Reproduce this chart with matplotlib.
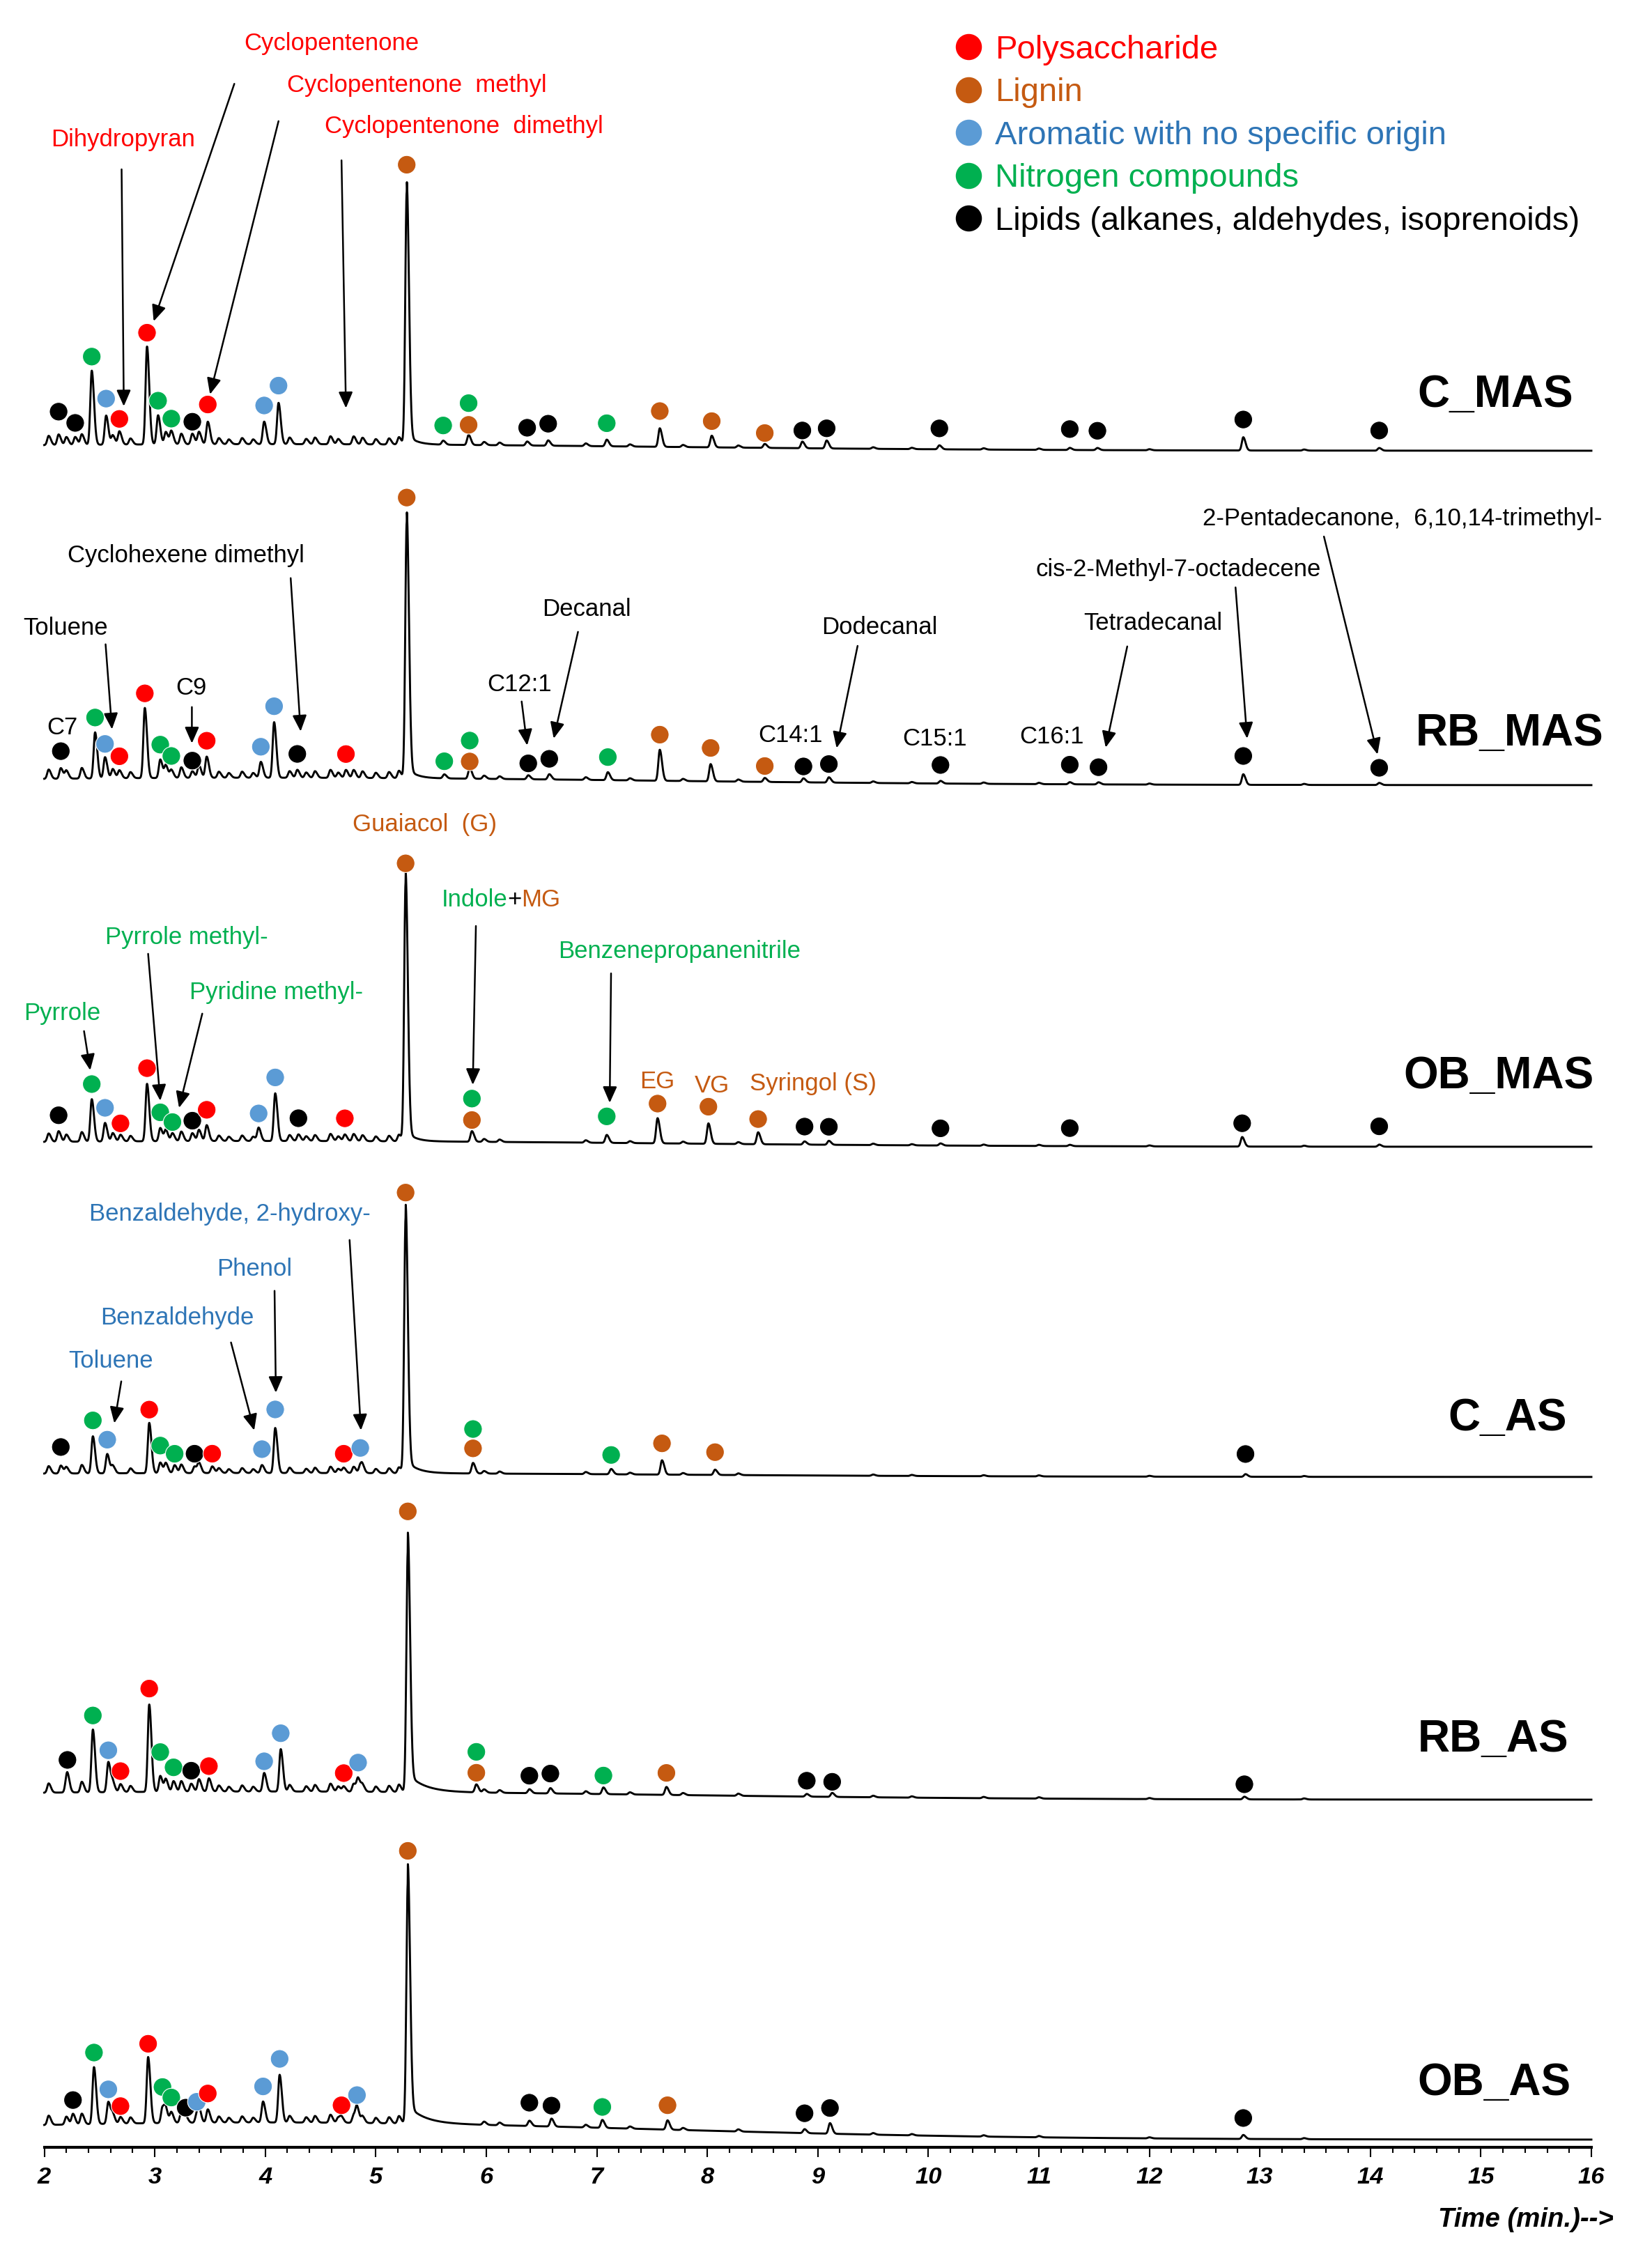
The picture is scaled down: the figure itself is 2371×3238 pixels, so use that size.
import numpy as np
import matplotlib
matplotlib.use('Agg')
import matplotlib.pyplot as plt
from matplotlib.lines import Line2D
from matplotlib import font_manager

# compound classes: P polysaccharide, L lignin, A aromatic, N nitrogen, K lipids
class_colors = {'P': '#FF0000', 'L': '#C55A11', 'A': '#5B9BD5', 'N': '#00B050', 'K': '#000000'}
text_colors = {'P': '#FF0000', 'L': '#C55A11', 'A': '#2E75B6', 'N': '#00B050', 'K': '#000000'}

legend_labels = ['Polysaccharide', 'Lignin', 'Aromatic with no specific origin',
                 'Nitrogen compounds', 'Lipids (alkanes, aldehydes, isoprenoids)']
legend_classes = ['P', 'L', 'A', 'N', 'K']

samples = ['C_MAS', 'RB_MAS', 'OB_MAS', 'C_AS', 'RB_AS', 'OB_AS']

# peaks: retention time (min), height (% of guaiacol peak)
c_mas_peak_t = [2.13, 2.28, 2.43, 2.56, 2.68, 2.93, 3.03, 3.15, 3.34, 3.48, 3.99, 4.12, 5.28, 5.61,
                5.84, 6.37, 6.56, 7.09, 7.57, 8.04, 8.52, 8.86, 9.08, 10.10, 11.28, 11.53, 12.85, 14.08]
c_mas_peak_h = [4, 3, 28, 11, 5, 37, 11, 5, 4, 8.5, 8.5, 15.6, 99.5, 1.5,
                3.8, 1.5, 2, 2.5, 7, 4.4, 1.5, 2.5, 3, 1.5, 0.8, 0.8, 5, 1]
rb_mas_peak_t = [2.15, 2.46, 2.55, 2.68, 2.91, 3.05, 3.15, 3.34, 3.47, 3.96, 4.08, 4.29, 4.73, 5.28, 5.62,
                 5.85, 6.38, 6.57, 7.10, 7.57, 8.03, 8.52, 8.87, 9.10, 10.11, 11.28, 11.54, 12.85, 14.08]
rb_mas_peak_h = [4, 17.4, 8, 3, 26.5, 7, 3, 2.5, 8, 6, 21, 3, 3, 100.8, 1.5,
                 4, 1.5, 2, 3, 11.7, 6.5, 1.5, 1.5, 2, 1, 0.8, 0.8, 4, 0.8]
ob_mas_peak_t = [2.13, 2.43, 2.55, 2.69, 2.93, 3.05, 3.16, 3.34, 3.47, 3.94, 4.09, 4.30, 4.72, 5.27,
                 5.87, 7.09, 7.55, 8.01, 8.46, 8.88, 9.10, 10.11, 11.28, 12.84, 14.08]
ob_mas_peak_h = [4, 16, 7, 2.5, 21.7, 5, 3, 3, 6, 5, 18, 2.5, 2.5, 101.8,
                 4, 3, 9.5, 7.7, 4.5, 1.2, 1.5, 0.8, 0.5, 3.6, 0.8]
c_as_peak_t = [2.15, 2.44, 2.57, 2.95, 3.05, 3.18, 3.36, 3.52, 3.97, 4.09, 4.71, 4.86, 5.27, 5.88,
               7.13, 7.59, 8.07, 12.87]
c_as_peak_h = [3, 14, 7.3, 19, 4, 3, 2.5, 2.5, 3, 17, 2, 3, 101.6, 4,
               2, 5.4, 2, 1]
rb_as_peak_t = [2.21, 2.44, 2.58, 2.69, 2.95, 3.05, 3.17, 3.33, 3.49, 3.99, 4.14, 4.71, 4.84, 5.29,
                5.91, 6.39, 6.58, 7.06, 7.63, 8.90, 9.13, 12.86]
rb_as_peak_h = [5, 23.7, 11.4, 3, 33, 6, 4, 3, 5, 7, 16, 2, 5, 98,
                3, 1.5, 2, 2.5, 3, 1, 1.5, 1]
ob_as_peak_t = [2.26, 2.45, 2.58, 2.69, 2.94, 3.07, 3.15, 3.28, 3.38, 3.48, 3.98, 4.13, 4.69, 4.83,
                5.29, 6.39, 6.59, 7.05, 7.64, 8.88, 9.11, 12.85]
ob_as_peak_h = [4, 21.5, 8.3, 2.5, 25, 6, 4, 2.5, 3, 5, 7.9, 18, 2, 5.7,
                98, 2, 3, 3, 3.5, 1.5, 4, 1.5]

# small unlabelled peaks common to all runs
minor_t = [2.04, 2.20, 2.34, 2.62, 2.78, 3.10, 3.24, 3.40, 3.58, 3.67, 3.79, 3.89, 4.22, 4.37, 4.45,
           4.59, 4.66, 4.80, 4.88, 5.00, 5.12, 5.21, 5.98, 6.12, 6.90, 7.30, 7.78, 8.28, 9.50, 9.85,
           10.50, 11.00, 12.00, 13.40]
minor_h = [3.5, 3, 4, 3.5, 2.3, 4.7, 4, 4.7, 2.3, 1.8, 2.3, 1.8, 2.5, 2, 2.5,
           3, 2, 3, 2.5, 2, 2.3, 2.8, 1.2, 1.0, 1.0, 0.8, 0.8, 0.8, 0.6, 0.5,
           0.5, 0.5, 0.4, 0.4]
minor_scale = [1.0, 1.0, 0.9, 0.8, 1.0, 1.0]
drift_h = [2.5, 2.8, 2.2, 1.5, 3.1, 6.5]
tail_frac = [0.04, 0.04, 0.04, 0.05, 0.07, 0.07]
tail_tau = [0.08, 0.08, 0.08, 0.10, 0.15, 0.15]

# identified compounds (dots): time, height above baseline (%), class
c_mas_dot_t = [2.13, 2.28, 2.43, 2.56, 2.68, 2.93, 3.03, 3.15, 3.34, 3.48, 3.99, 4.12, 5.28, 5.61, 5.84,
               5.84, 6.37, 6.56, 7.09, 7.57, 8.04, 8.52, 8.86, 9.08, 10.10, 11.28, 11.53, 12.85, 14.08]
c_mas_dot_h = [12.6, 8.3, 33.3, 17.4, 9.7, 42.2, 16.5, 9.7, 8.5, 15.0, 14.6, 22.1, 105.7, 7.3, 15.8,
               7.6, 6.7, 8.3, 8.7, 13.5, 9.9, 5.6, 6.7, 7.6, 7.9, 7.9, 7.3, 11.7, 7.6]
c_mas_dot_c = ['K', 'K', 'N', 'A', 'P', 'P', 'N', 'N', 'K', 'P', 'A', 'A', 'L', 'N', 'N',
               'L', 'K', 'K', 'N', 'L', 'L', 'L', 'K', 'K', 'K', 'K', 'K', 'K', 'K']
rb_mas_dot_t = [2.15, 2.46, 2.55, 2.68, 2.91, 3.05, 3.15, 3.34, 3.47, 3.96, 4.08, 4.29, 4.73, 5.28, 5.62,
                5.85, 5.85, 6.38, 6.57, 7.10, 7.57, 8.03, 8.52, 8.87, 9.10, 10.11, 11.28, 11.54, 12.85, 14.08]
rb_mas_dot_h = [10.4, 23, 13, 8.3, 32, 12.6, 8.3, 6.5, 14, 11.7, 27, 9, 9, 106, 6.5,
                14.4, 6.5, 6, 7.8, 8.7, 17.4, 12.6, 6, 6, 7, 7, 7.4, 6.5, 10.9, 6.5]
rb_mas_dot_c = ['K', 'N', 'A', 'P', 'P', 'N', 'N', 'K', 'P', 'A', 'A', 'K', 'P', 'L', 'N',
                'N', 'L', 'K', 'K', 'N', 'L', 'L', 'L', 'K', 'K', 'K', 'K', 'K', 'K', 'K']
ob_mas_dot_t = [2.13, 2.43, 2.55, 2.69, 2.93, 3.05, 3.16, 3.34, 3.47, 3.94, 4.09, 4.30, 4.72, 5.27,
                5.87, 5.87, 7.09, 7.55, 8.01, 8.46, 8.88, 9.10, 10.11, 11.28, 12.84, 14.08]
ob_mas_dot_h = [10, 21.7, 12.7, 6.8, 27.6, 10.9, 7.2, 7.7, 11.8, 10.4, 24, 8.6, 8.6, 105,
                16.3, 8.2, 10, 15, 14, 9.5, 6.8, 6.8, 6.5, 6.8, 8.8, 7.7]
ob_mas_dot_c = ['K', 'N', 'A', 'P', 'P', 'N', 'N', 'K', 'P', 'A', 'A', 'K', 'P', 'L',
                'N', 'L', 'N', 'L', 'L', 'L', 'K', 'K', 'K', 'K', 'K', 'K']
c_as_dot_t = [2.15, 2.44, 2.57, 2.95, 3.05, 3.18, 3.36, 3.52, 3.97, 4.09, 4.71, 4.86, 5.27, 5.88,
              5.88, 7.13, 7.59, 8.07, 12.87]
c_as_dot_h = [10, 20, 12.7, 24, 10.4, 7.3, 7.3, 7.3, 9, 24, 7.3, 9.5, 106, 16.8,
              9.5, 7.3, 11.8, 8.6, 8.6]
c_as_dot_c = ['K', 'N', 'A', 'P', 'N', 'N', 'K', 'P', 'A', 'A', 'P', 'A', 'L', 'N',
              'L', 'N', 'L', 'L', 'K']
rb_as_dot_t = [2.21, 2.44, 2.58, 2.69, 2.95, 3.05, 3.17, 3.33, 3.49, 3.99, 4.14, 4.71, 4.84, 5.29,
               5.91, 5.91, 6.39, 6.58, 7.06, 7.63, 8.90, 9.13, 12.86]
rb_as_dot_h = [12.3, 29, 15.8, 7.9, 39, 15, 9.2, 7.9, 9.6, 11.4, 22, 7, 11, 106,
               15.4, 7.5, 6.6, 7.5, 7, 8.3, 6, 5.7, 5.7]
rb_as_dot_c = ['K', 'N', 'A', 'P', 'P', 'N', 'N', 'K', 'P', 'A', 'A', 'P', 'A', 'L',
               'N', 'L', 'K', 'K', 'N', 'L', 'K', 'K', 'K']
ob_as_dot_t = [2.26, 2.45, 2.58, 2.69, 2.94, 3.07, 3.15, 3.28, 3.38, 3.48, 3.98, 4.13, 4.69, 4.83,
               5.29, 6.39, 6.59, 7.05, 7.64, 8.88, 9.11, 12.85]
ob_as_dot_h = [9.2, 27, 13, 6.6, 30, 13.6, 9.6, 5.7, 7.9, 11, 13.6, 24, 6.6, 10.5,
               103, 8.8, 7.9, 7.9, 9.2, 7.5, 9.7, 7.9]
ob_as_dot_c = ['K', 'N', 'A', 'P', 'P', 'N', 'N', 'K', 'A', 'P', 'A', 'A', 'P', 'A',
               'L', 'K', 'K', 'N', 'L', 'K', 'K', 'K']

# compound names: (text, time, height above trace, class colour)
c_mas_names = [('Cyclopentenone', 4.60, 153.9, 'P'), ('Cyclopentenone  methyl', 5.37, 137.9, 'P'),
               ('Cyclopentenone  dimethyl', 5.80, 122.6, 'P'), ('Dihydropyran', 2.71, 117.4, 'P')]
rb_mas_names = [('C7', 2.16, 21.6, 'K'), ('Toluene', 2.19, 59.2, 'K'), ('C9', 3.33, 36.6, 'K'),
                ('Cyclohexene dimethyl', 3.28, 86.6, 'K'), ('C12:1', 6.30, 37.9, 'K'),
                ('Decanal', 6.91, 66.3, 'K'), ('C14:1', 8.75, 18.9, 'K'), ('Dodecanal', 9.56, 59.7, 'K'),
                ('C15:1', 10.06, 17.6, 'K'), ('C16:1', 11.12, 18.2, 'K'), ('Tetradecanal', 12.03, 61.1, 'K'),
                ('cis-2-Methyl-7-octadecene', 12.26, 81.3, 'K'),
                ('2-Pentadecanone,  6,10,14-trimethyl-', 14.29, 100.5, 'K')]
ob_mas_names = [('Guaiacol  (G)', 5.44, 121.8, 'L'), ('Pyrrole methyl-', 3.29, 79.2, 'N'),
                ('Benzenepropanenitrile', 7.75, 73.7, 'N'), ('Pyridine methyl-', 4.10, 58.4, 'N'),
                ('Pyrrole', 2.16, 50.3, 'N'), ('EG', 7.545, 24.5, 'L'), ('VG', 8.04, 22.9, 'L'),
                ('Syringol (S)', 8.96, 23.9, 'L')]
c_as_names = [('Benzaldehyde, 2-hydroxy-', 3.68, 99.2, 'A'), ('Phenol', 3.90, 78.4, 'A'),
              ('Benzaldehyde', 3.20, 60.0, 'A'), ('Toluene', 2.60, 43.9, 'A')]

# arrows: tail time, tail height, tip time, tip height
c_mas_arrows = [(2.70, 106.3, 2.72, 16.8), (3.72, 138.6, 2.99, 48.9),
                (4.12, 124.5, 3.50, 21.3), (4.69, 109.7, 4.73, 16.1)]
rb_mas_arrows = [(2.555, 53.2, 2.613, 21.1), (3.336, 29.5, 3.336, 15.8), (4.23, 78.2, 4.32, 20.3),
                 (6.32, 31.6, 6.37, 15.0), (6.83, 57.9, 6.61, 17.6), (9.36, 52.6, 9.17, 14.0),
                 (11.80, 52.4, 11.605, 14.2), (12.78, 74.7, 12.885, 17.6), (13.58, 93.9, 14.065, 11.6)]
ob_mas_arrows = [(2.36, 43.7, 2.416, 28.9), (2.94, 72.9, 3.05, 17.4), (3.43, 50.3, 3.22, 14.7),
                 (5.906, 83.4, 5.878, 23.4), (7.129, 65.5, 7.117, 16.6)]
c_as_arrows = [(2.697, 36.1, 2.634, 20.3), (3.69, 50.8, 3.90, 17.6),
               (4.084, 70.3, 4.096, 31.8), (4.763, 89.5, 4.866, 17.6)]

peak_t = [c_mas_peak_t, rb_mas_peak_t, ob_mas_peak_t, c_as_peak_t, rb_as_peak_t, ob_as_peak_t]
peak_h = [c_mas_peak_h, rb_mas_peak_h, ob_mas_peak_h, c_as_peak_h, rb_as_peak_h, ob_as_peak_h]
dot_t = [c_mas_dot_t, rb_mas_dot_t, ob_mas_dot_t, c_as_dot_t, rb_as_dot_t, ob_as_dot_t]
dot_h = [c_mas_dot_h, rb_mas_dot_h, ob_mas_dot_h, c_as_dot_h, rb_as_dot_h, ob_as_dot_h]
dot_c = [c_mas_dot_c, rb_mas_dot_c, ob_mas_dot_c, c_as_dot_c, rb_as_dot_c, ob_as_dot_c]
names = [c_mas_names, rb_mas_names, ob_mas_names, c_as_names, [], []]
arrows = [c_mas_arrows, rb_mas_arrows, ob_mas_arrows, c_as_arrows, [], []]

# layout: baseline of each run and sample label position (in % units)
offsets = [640.8, 514.5, 377.9, 253.2, 131.3, 2.9]
sample_label_pos = [(15.13, 21.1), (15.26, 19.5), (15.16, 26.6), (15.24, 22.1), (15.11, 22.6), (15.12, 21.3)]

installed = {f.name for f in font_manager.fontManager.ttflist}
narrow = 'Liberation Sans Narrow' if 'Liberation Sans Narrow' in installed else 'Liberation Sans'
nscale = 1.0 if narrow == 'Liberation Sans Narrow' else 0.92
plt.rcParams['font.family'] = ['Liberation Sans', 'DejaVu Sans']


def baseline(t, d):
    return d * np.exp(-0.5 * ((t - 4.0) / 3.5) ** 2)


def chromatogram(t, pt, ph, mscale, d, a, tau):
    y = baseline(t, d)
    for t0, h in list(zip(pt, ph)) + [(m, mh * mscale) for m, mh in zip(minor_t, minor_h)]:
        s = np.where(t < t0, 0.013, 0.02)
        g = np.exp(-0.5 * ((t - t0) / s) ** 2)
        if h > 50:
            tail = np.exp(-np.clip(t - t0, 0, None) / tau) * (t >= t0)
            g = (1 - a) * g + a * tail
        y = y + h * g
    return y


fig = plt.figure(figsize=(23.71, 32.38), dpi=100)
ax = fig.add_axes([63.5 / 2371, 156 / 3238, 2220.5 / 2371, 3082 / 3238])
ax.set_xlim(2, 16)
ax.set_ylim(0, 811.05)

t = np.linspace(2.0, 16.0, 8000)
for i, s in enumerate(samples):
    off = offsets[i]
    y = chromatogram(t, peak_t[i], peak_h[i], minor_scale[i], drift_h[i], tail_frac[i], tail_tau[i])
    ax.plot(t, off + y, color='black', lw=2.1, zorder=2, clip_on=False)

    dt = np.array(dot_t[i])
    dy = off + baseline(dt, drift_h[i]) + np.array(dot_h[i])
    ax.scatter(dt, dy, s=19 ** 2, c=[class_colors[c] for c in dot_c[i]], edgecolors='white',
               linewidths=0.8, zorder=4, clip_on=False)

    for tail_t, tail_h, tip_t, tip_h in arrows[i]:
        ax.annotate('', xy=(tip_t, off + tip_h), xytext=(tail_t, off + tail_h),
                    arrowprops=dict(arrowstyle='-|>,head_length=0.5,head_width=0.22', color='black',
                                    lw=1.8, mutation_scale=28, shrinkA=0, shrinkB=0), zorder=3)
    for txt, tx, ty, c in names[i]:
        ax.text(tx, off + ty, txt, color=text_colors[c], fontsize=25, ha='center', va='center')

    lx, ly = sample_label_pos[i]
    ax.text(lx, off + ly, s, fontsize=50 * nscale, fontweight='bold', family=[narrow, 'Liberation Sans'],
            ha='center', va='center')

# Indole + MG label, two classes in one name
t1 = ax.text(6.19, offsets[2] + 93.2, 'Indole', color=text_colors['N'], fontsize=25, ha='right', va='center')
t2 = ax.annotate('+', xy=(1, 0), xycoords=t1, va='bottom', ha='left', fontsize=25, color='black')
ax.annotate('MG', xy=(1, 0), xycoords=t2, va='bottom', ha='left', fontsize=25, color=text_colors['L'])

# axis styling
for side in ['top', 'left', 'right']:
    ax.spines[side].set_visible(False)
ax.spines['bottom'].set_linewidth(3)
ax.set_yticks([])
ax.set_xticks(np.arange(2, 17, 1))
ax.set_xticks(np.arange(2, 16.01, 0.2), minor=True)
ax.tick_params(axis='x', which='major', length=10, width=1.5, pad=10, direction='out')
ax.tick_params(axis='x', which='minor', length=6, width=1.5, direction='out')
for lab in ax.get_xticklabels():
    lab.set_fontsize(27 * nscale)
    lab.set_fontweight('bold')
    lab.set_fontstyle('italic')
    lab.set_family([narrow, 'Liberation Sans'])
ax.text(16.2, -27.4, 'Time (min.)-->', fontsize=30 * nscale, fontweight='bold', fontstyle='italic',
        family=[narrow, 'Liberation Sans'], ha='right', va='center', clip_on=False)

handles = [Line2D([], [], ls='none', marker='o', ms=26, color=class_colors[c]) for c in legend_classes]
leg = fig.legend(handles, legend_labels, loc='upper left', bbox_to_anchor=(1371 / 2371, 1 - 50 / 3238),
                 frameon=False, fontsize=34, handlelength=0.8, handletextpad=0.4, labelspacing=0.37,
                 borderpad=0, borderaxespad=0)
for txt, c in zip(leg.get_texts(), legend_classes):
    txt.set_color(text_colors[c])

fig.savefig('out.png', dpi=100)
